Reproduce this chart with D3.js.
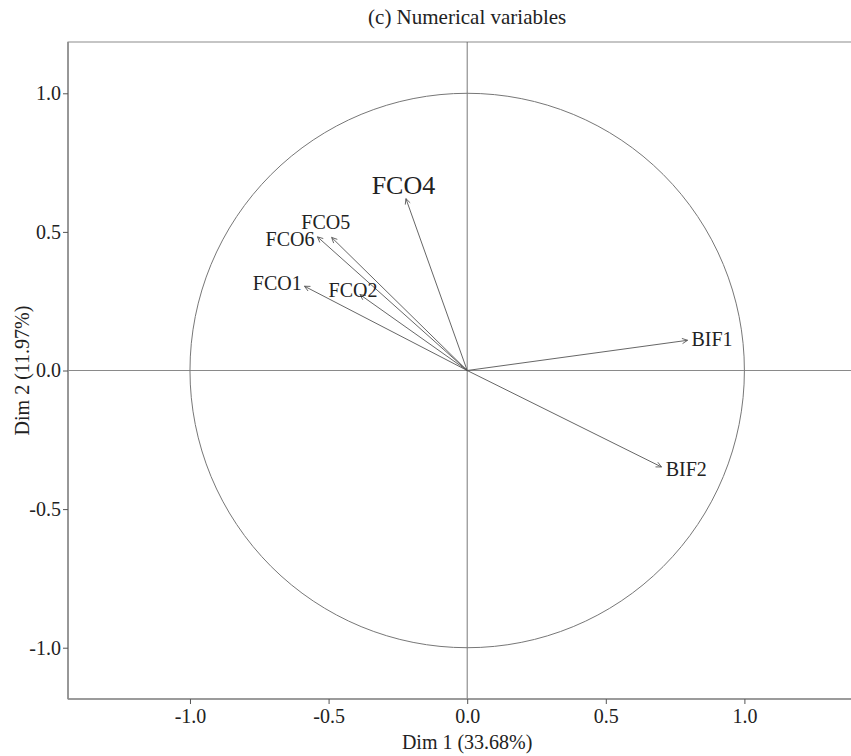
<!DOCTYPE html>
<html>
<head>
<meta charset="utf-8">
<script src="https://cdn.jsdelivr.net/npm/d3@7"></script>
<style>
  html, body { margin: 0; padding: 0; background: #fff; }
  svg { display: block; }
  text { font-family: "Liberation Serif", "Times New Roman", serif; fill: #222; }
</style>
</head>
<body>
<div id="chart"></div>
<script>
// ---- data ----
const variables = ["FCO4", "FCO5", "FCO6", "FCO1", "FCO2", "BIF1", "BIF2"];
const dim1 = [-0.221, -0.489, -0.540, -0.587, -0.387, 0.795, 0.701];
const dim2 = [0.620, 0.480, 0.482, 0.304, 0.274, 0.109, -0.348];
const labelDim1 = [-0.230, -0.510, -0.639, -0.685, -0.412, 0.883, 0.790];
const labelDim2 = [0.668, 0.536, 0.476, 0.314, 0.290, 0.112, -0.354];
const contribHighlight = [true, false, false, false, false, false, false];
const tickValues = [-1.0, -0.5, 0.0, 0.5, 1.0];
const tickLabels = ["-1.0", "-0.5", "0.0", "0.5", "1.0"];
const titleText = "(c) Numerical variables";
const xTitle = "Dim 1 (33.68%)";
const yTitle = "Dim 2 (11.97%)";

// ---- layout ----
const W = 851, H = 756;
const mLeft = 68, mTop = 42, mBottom = 699;
const unit = (mBottom - mTop) / 2.37;
const x = d3.scaleLinear().domain([-1.44, 1.44]).range([mLeft, mLeft + 2.88 * unit]);
const y = d3.scaleLinear().domain([-1.185, 1.185]).range([mBottom, mTop]);
const fmt = v => tickLabels[tickValues.indexOf(v)];

const svg = d3.select("#chart").append("svg").attr("width", W).attr("height", H);

// frame (top/right)
svg.append("rect")
  .attr("x", x(-1.44)).attr("y", y(1.185))
  .attr("width", x(1.44) - x(-1.44)).attr("height", y(-1.185) - y(1.185))
  .attr("fill", "none").attr("stroke", "#8c8c8c").attr("stroke-width", 1);

// zero lines
svg.append("line")
  .attr("x1", x(-1.44)).attr("x2", x(1.44)).attr("y1", y(0)).attr("y2", y(0))
  .attr("stroke", "#8a8a8a").attr("stroke-width", 1);
svg.append("line")
  .attr("x1", x(0)).attr("x2", x(0)).attr("y1", y(1.185)).attr("y2", y(-1.185))
  .attr("stroke", "#555").attr("stroke-width", 0.8);

// correlation circle
svg.append("circle")
  .attr("cx", x(0)).attr("cy", y(0)).attr("r", x(1) - x(0))
  .attr("fill", "none").attr("stroke", "#777").attr("stroke-width", 1);

// axes
const xAxis = d3.axisBottom(x).tickValues(tickValues).tickFormat(fmt).tickSize(5).tickPadding(5);
const yAxis = d3.axisLeft(y).tickValues(tickValues).tickFormat(fmt).tickSize(5).tickPadding(2);

const gx = svg.append("g").attr("transform", `translate(0,${mBottom})`).call(xAxis);
const gy = svg.append("g").attr("transform", `translate(${mLeft},0)`).call(yAxis);
[gx, gy].forEach(g => {
  g.select(".domain").attr("stroke", "#8c8c8c").attr("stroke-width", 1.6);
  g.selectAll(".tick line").attr("stroke", "#555").attr("stroke-width", 1);
  g.selectAll(".tick text")
    .attr("font-family", "Liberation Serif, serif")
    .attr("font-size", 20).attr("fill", "#222");
});
gx.select(".domain").attr("d", `M${mLeft},0H${x(1.44)}`);
gy.select(".domain").attr("d", `M0,${mTop}V${mBottom}`);

// arrows
const data = variables.map((v, i) => ({
  name: v, x: dim1[i], y: dim2[i], lx: labelDim1[i], ly: labelDim2[i], big: contribHighlight[i]
}));

const arrowG = svg.append("g");
data.forEach(d => {
  const x0 = x(0), y0 = y(0), x1 = x(d.x), y1 = y(d.y);
  arrowG.append("line")
    .attr("x1", x0).attr("y1", y0).attr("x2", x1).attr("y2", y1)
    .attr("stroke", "#555").attr("stroke-width", 0.9);
  const ang = Math.atan2(y1 - y0, x1 - x0);
  const L = 6, a = Math.PI / 7;
  const p1 = [x1 - L * Math.cos(ang - a), y1 - L * Math.sin(ang - a)];
  const p2 = [x1 - L * Math.cos(ang + a), y1 - L * Math.sin(ang + a)];
  arrowG.append("path")
    .attr("d", `M${p1[0]},${p1[1]}L${x1},${y1}L${p2[0]},${p2[1]}`)
    .attr("fill", "none").attr("stroke", "#555").attr("stroke-width", 0.9);
});

// labels
svg.append("g").selectAll("text").data(data).join("text")
  .attr("x", d => x(d.lx))
  .attr("y", d => y(d.ly))
  .attr("text-anchor", "middle")
  .attr("dominant-baseline", "central")
  .attr("font-size", d => d.big ? 26 : 20)
  .text(d => d.name);

// titles
svg.append("text").attr("x", x(0)).attr("y", 24).attr("text-anchor", "middle")
  .attr("font-size", 21).text(titleText);
svg.append("text").attr("x", x(0)).attr("y", 749).attr("text-anchor", "middle")
  .attr("font-size", 20).text(xTitle);
svg.append("text").attr("transform", `translate(29,${y(0)}) rotate(-90)`)
  .attr("text-anchor", "middle").attr("font-size", 20).text(yTitle);
</script>
</body>
</html>
